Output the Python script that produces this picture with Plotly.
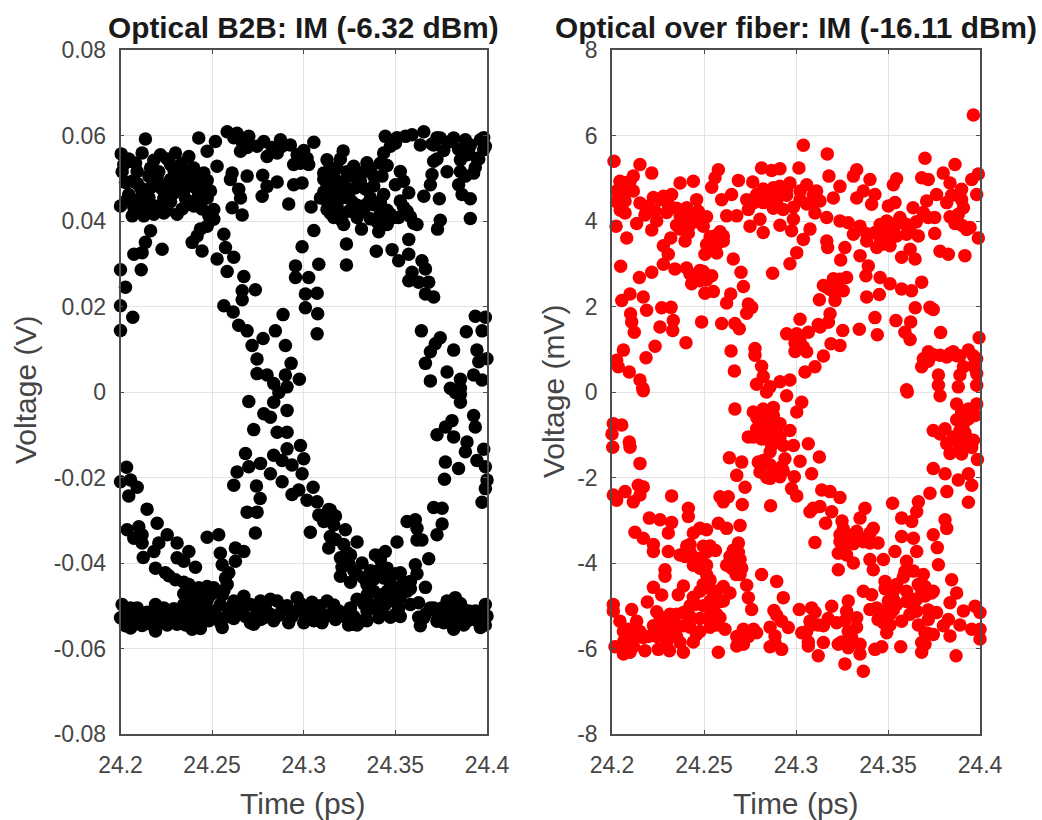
import plotly.graph_objects as go

x_ticks = [24.2, 24.25, 24.3, 24.35, 24.4]
x_labels = ["24.2", "24.25", "24.3", "24.35", "24.4"]
y1_ticks = [-0.08, -0.06, -0.04, -0.02, 0, 0.02, 0.04, 0.06, 0.08]
y1_labels = ["-0.08", "-0.06", "-0.04", "-0.02", "0", "0.02", "0.04", "0.06", "0.08"]
y2_ticks = [-8, -6, -4, -2, 0, 2, 4, 6, 8]
y2_labels = ["-8", "-6", "-4", "-2", "0", "2", "4", "6", "8"]

# Optical B2B (time ps, voltage V), upper rail
b2b_upper = [(24.2136,.0592),(24.2004,.0557),(24.2118,.0559),(24.2018,.0532),(24.2055,.054),(24.2009,.0515),(24.2091,.0516),(24.2064,.0493),(24.2109,.0478),(24.2,.0435),(24.2036,.045),(24.2064,.0412),(24.2127,.0412),(24.2164,.0524),(24.2218,.0555),(24.23,.0559),(24.2373,.0551),(24.2427,.0594),(24.22,.0501),(24.2273,.0532),(24.2327,.0509),(24.24,.0524),(24.2455,.0512),(24.2164,.0478),(24.2255,.0485),(24.2345,.047),(24.2436,.0493),(24.2491,.047),(24.2145,.0439),(24.2236,.0454),(24.2309,.0416),(24.24,.0435),(24.2473,.0454),(24.2509,.0427),(24.2509,.0404),(24.2236,.0419),(24.2182,.0416),(24.2373,.0439),
(24.2473,.0563),(24.2518,.0586),(24.2582,.0609),(24.2636,.0605),(24.27,.0598),(24.2655,.0563),(24.2782,.0586),(24.2873,.059),(24.2927,.0578),(24.3055,.0584),(24.28,.0551),(24.2855,.0559),(24.3018,.0547),(24.2945,.0532),(24.3027,.0532),(24.2527,.0528),(24.2609,.0512),(24.26,.0497),(24.2691,.0505),(24.2776,.0507),(24.28,.0481),(24.2855,.0491),(24.2945,.0485),(24.2991,.0489),(24.2773,.0458),(24.2645,.0474),(24.2655,.0454),(24.2609,.0431),(24.2664,.0414),(24.2918,.044),(24.304,.0433),
(24.3127,.0543),(24.3215,.0564),(24.3109,.0512),(24.3182,.0524),(24.3273,.0528),(24.3345,.0536),(24.3127,.0485),(24.3218,.0493),(24.3309,.0493),(24.3382,.0505),(24.3091,.0454),(24.3164,.0454),(24.3245,.0462),(24.3364,.0454),(24.3127,.0427),(24.3164,.0408),(24.3218,.0392),(24.3245,.0423),(24.3327,.0423),(24.3418,.0416),(24.3315,.0381),(24.3409,.0375),(24.3427,.0505),(24.3436,.0462),(24.3473,.0416),
(24.3436,.0559),(24.3445,.0598),(24.35,.0582),(24.3555,.0598),(24.3591,.0602),(24.3655,.0609),(24.3636,.0578),(24.3709,.0578),(24.3745,.0594),(24.3818,.0594),(24.3882,.059),(24.3964,.059),(24.3982,.0567),(24.3891,.0555),(24.3855,.0543),(24.3782,.0515),(24.3709,.054),(24.37,.0509),(24.3691,.0485),(24.3655,.0458),(24.374,.0452),(24.3927,.0512),(24.3855,.0516),(24.3845,.0485),(24.3864,.0462),(24.3909,.0452),(24.3909,.0406),(24.3745,.0402),(24.373,.0381),(24.3945,.0547),(24.3909,.0578),
(24.3527,.0516),(24.3545,.0493),(24.3573,.0466),(24.35,.0485),(24.3527,.0447),(24.3564,.0423),(24.3618,.0392),(24.3455,.0392),(24.3518,.0408)]

b2b_upper_left_cluster = [(24.2045,.0545),(24.2082,.0535),(24.2027,.049),(24.2091,.0488),(24.2045,.0462),(24.2105,.0452),(24.2073,.0432),(24.2118,.0425),(24.2155,.0505),(24.2182,.0542),(24.2209,.0515),(24.2255,.0545),(24.2291,.052),(24.2336,.0535),(24.2355,.0515),(24.2155,.0455),(24.2182,.0492),(24.2227,.0475),(24.2273,.0497),(24.2291,.0465),(24.2318,.0487),(24.2373,.0498),(24.24,.048),(24.2427,.0465),(24.2455,.0478),(24.2145,.0423),(24.2209,.0435),(24.2255,.0425),(24.2273,.0445),(24.2336,.0428),(24.2355,.0452),(24.2418,.0452),(24.2445,.0428),(24.2482,.0412),(24.2418,.0505),(24.2473,.0495),(24.2164,.044),(24.2118,.047)]

b2b_upper_right_cluster = [(24.3145,.0525),(24.3164,.0505),(24.32,.0545),(24.3236,.0515),(24.3264,.0505),(24.3291,.0515),(24.3327,.0515),(24.3364,.0522),(24.3109,.0498),(24.3145,.0475),(24.3182,.0478),(24.3236,.0475),(24.3282,.0478),(24.3336,.0475),(24.3382,.0482),(24.3109,.0468),(24.3127,.0445),(24.3182,.0435),(24.3218,.0455),(24.3264,.0445),(24.3291,.0437),(24.3345,.044),(24.3382,.0438),(24.3145,.0418),(24.32,.0415),(24.3209,.04),(24.3291,.0408),(24.3364,.0405),(24.3418,.0445),(24.34,.0398),(24.3455,.0425),(24.3491,.0408),(24.3545,.0432),(24.3582,.041),(24.36,.0395),
(24.39,.0568),(24.3955,.0545),(24.3991,.0575),(24.3936,.0525),(24.3882,.0505),(24.3982,.0595),(24.3845,.0568),(24.3791,.0585),(24.3764,.0565),(24.3727,.0545),(24.3727,.0595),(24.37,.058),(24.3473,.0575),(24.3418,.0535),(24.3455,.053),(24.3509,.0595),(24.2691,.0572),(24.2664,.0585),(24.2618,.0595),(24.2745,.0575),(24.2827,.0572),(24.2882,.0575),(24.2964,.0555),(24.2982,.0535),(24.3,.0565)]

# Optical B2B, upper half of the eye crossings
b2b_mid_upper = [(24.2473,.0388),(24.2436,.0381),(24.2418,.0365),(24.2391,.035),(24.2445,.033),(24.2164,.0377),(24.2136,.035),(24.2118,.0326),(24.2073,.0322),(24.2227,.0334),(24.2113,.0286),(24.2,.0286),(24.2027,.0245),(24.2,.0202),(24.2067,.0175),(24.2,.0144),
(24.2564,.0369),(24.2573,.0338),(24.2527,.0311),(24.2618,.0315),(24.2582,.0282),(24.2673,.027),(24.2736,.0239),(24.2664,.0237),(24.2664,.0216),(24.2564,.0202),(24.2615,.0187),(24.2645,.0156),(24.2691,.0143),(24.2718,.0109),(24.2778,.0125),(24.2845,.0143),(24.2887,.0181),(24.29,.0109),(24.2745,.0077),(24.2931,.0067),(24.2745,.0043),(24.28,.004),(24.29,.004),(24.2976,.003),(24.2836,.002),(24.2909,.0012),
(24.3055,.0378),(24.2991,.034),(24.2955,.0295),(24.2955,.0268),(24.3027,.0268),(24.3082,.0299),(24.3009,.0229),(24.3073,.0231),(24.3009,.0197),(24.3076,.0183),(24.3073,.0136),(24.3233,.0346),(24.3233,.0297),
(24.3573,.0357),(24.3396,.0329),(24.3482,.0333),(24.3518,.0307),(24.3573,.0322),(24.3645,.0307),(24.3664,.0288),(24.3591,.028),(24.3573,.026),(24.3682,.0257),(24.3627,.0257),(24.3664,.0229),(24.3709,.0222),
(24.3936,.0177),(24.3991,.0175),(24.3642,.0143),(24.3973,.0143),(24.3887,.0141),(24.3745,.0127),(24.3718,.0113),(24.3691,.0094),(24.3664,.0067),(24.3818,.0098),(24.3945,.0098),(24.3955,.0071),(24.4,.0078),(24.3782,.0047),(24.3691,.0026),(24.3855,.003),(24.3927,.004),(24.3973,.0028),(24.38,.0009),(24.3855,.0009)]

# Optical B2B, lower half of the eye crossings
b2b_mid_lower = [(24.27,-.0022),(24.2864,-.0001),(24.2836,-.0024),(24.2782,-.0051),(24.2818,-.0059),(24.2909,-.0043),(24.2727,-.0088),(24.2855,-.0094),(24.2909,-.0094),(24.2682,-.0144),(24.2836,-.0148),(24.2909,-.0133),(24.2982,-.0125),(24.2882,-.016),(24.3,-.0156),(24.2936,-.0171),(24.2991,-.0191),(24.2764,-.0167),(24.27,-.0175),(24.2636,-.0187),(24.2618,-.0218),(24.2818,-.0191),(24.2882,-.021),(24.2742,-.022),(24.2762,-.0249),(24.2691,-.0281),(24.2745,-.0281),(24.2736,-.033),(24.2536,-.0334),(24.2473,-.034),
(24.2973,-.0229),(24.2936,-.024),(24.3051,-.0223),(24.3018,-.0253),(24.3073,-.0257),(24.3082,-.0288),(24.3145,-.0276),(24.3127,-.0299),(24.3036,-.0328),(24.3164,-.0311),(24.3227,-.0322),(24.3145,-.0338),(24.3291,-.0351),(24.3136,-.0365),(24.3218,-.0357),(24.32,-.0388),(24.3255,-.0381),(24.32,-.0431),(24.3245,-.04),(24.3318,-.04),(24.3291,-.0427),(24.3345,-.045),(24.3391,-.0381),(24.3445,-.0373),(24.3509,-.0351),(24.34,-.0419),(24.3455,-.0412),(24.3382,-.0466),(24.3455,-.0466),(24.3527,-.0423),(24.3609,-.0404),(24.3682,-.039),(24.3582,-.0443),(24.3664,-.0457),(24.3527,-.0458),(24.3564,-.0466),(24.3327,-.0435),
(24.3855,-.0005),(24.3827,-.0001),(24.3855,-.0024),(24.3927,-.0055),(24.3936,-.0082),(24.3809,-.0067),(24.3773,-.0082),(24.3727,-.01),(24.3818,-.0105),(24.3891,-.0117),(24.3882,-.014),(24.3982,-.0134),(24.3945,-.016),(24.3991,-.0175),(24.3773,-.0164),(24.3845,-.0179),(24.3768,-.0204),(24.4,-.0206),(24.3991,-.0226),(24.3973,-.0258),(24.3709,-.027),(24.3755,-.0272),(24.3755,-.0309),(24.3727,-.0334),(24.3564,-.0303),(24.3609,-.0299),(24.3618,-.0319),(24.3618,-.0346),(24.3645,-.0346),
(24.2033,-.0176),(24.2,-.021),(24.2055,-.0206),(24.2091,-.0223),(24.2045,-.0243),(24.2145,-.0274),(24.2036,-.0322),(24.21,-.0315),(24.2118,-.0334),(24.2073,-.0342),(24.2118,-.0353),(24.22,-.0307),(24.2255,-.0334),(24.2209,-.0353),(24.2182,-.0373),(24.2309,-.0353),(24.2124,-.0387),(24.2373,-.0373),(24.2309,-.0388),(24.2345,-.0396),(24.2409,-.041),(24.2191,-.0412),(24.2245,-.0423),(24.23,-.0439),(24.2373,-.045),(24.2427,-.0458),(24.2509,-.0458),(24.2582,-.045),(24.2591,-.0423),(24.2555,-.0404),(24.2545,-.0377),(24.2627,-.0365),(24.2673,-.0373),(24.2627,-.0396),(24.2364,-.0481),(24.2436,-.0481)]

b2b_mid_lower_cluster = [(24.2418,-.0465),(24.2455,-.0475),(24.2473,-.0455),(24.2491,-.0475),(24.2527,-.0468),(24.2555,-.0475),(24.2573,-.0435),(24.2564,-.0465),(24.2391,-.047),(24.2345,-.0445),(24.2264,-.043),(24.2345,-.0472),(24.3364,-.0418),(24.3382,-.0438),(24.3345,-.0475),(24.3418,-.0392),(24.3436,-.0435),(24.3473,-.0448),(24.3491,-.0475),(24.35,-.0425),(24.3545,-.0445),(24.3527,-.048),(24.3418,-.0475),(24.3582,-.046),(24.3618,-.0425),(24.3273,-.0418),(24.3255,-.0445),(24.3209,-.041),(24.3173,-.0345),(24.3236,-.0375),(24.3109,-.0303),(24.3136,-.0275),(24.3173,-.029)]

# Optical B2B, lower rail
b2b_lower = [(24.2009,-.0497),(24.2,-.0528),(24.2027,-.0547),(24.2073,-.0516),(24.2091,-.0536),(24.2055,-.0505),(24.2136,-.0528),(24.2191,-.0497),(24.2191,-.0559),(24.2218,-.0509),(24.2164,-.0536),(24.2245,-.0528),(24.2309,-.0543),(24.2282,-.0512),(24.2345,-.052),(24.2391,-.0555),(24.2373,-.0489),(24.2436,-.0497),(24.2418,-.0536),(24.2473,-.0509),(24.2345,-.0497),(24.2464,-.0528),(24.2509,-.0512),(24.2555,-.0551),(24.2545,-.0497),(24.2591,-.0512),(24.2618,-.0489),(24.2673,-.0478),(24.2655,-.0512),(24.2709,-.0497),(24.2727,-.0543),(24.2782,-.0528),(24.2764,-.0489),(24.2818,-.0485),(24.2855,-.0489),(24.2818,-.052),(24.2882,-.0509),(24.2918,-.054),(24.2964,-.0481),(24.2964,-.0512),(24.3,-.054),(24.3027,-.0505),(24.3073,-.052),(24.31,-.054),(24.3127,-.0489),(24.3145,-.052),(24.3191,-.0512),(24.3264,-.0543),(24.3255,-.0505),(24.3291,-.0485),(24.3309,-.0536),(24.3345,-.0512),(24.3364,-.0497),(24.3409,-.0528),(24.3445,-.0497),(24.35,-.052),(24.3491,-.0489),(24.3582,-.0497),(24.3627,-.0493),(24.3636,-.0547),(24.3664,-.052),(24.3709,-.0505),(24.3727,-.0536),(24.3782,-.0489),(24.3827,-.0481),(24.3809,-.054),(24.3864,-.0505),(24.3891,-.0536),(24.39,-.0512),(24.3964,-.0551),(24.3936,-.0512),(24.3991,-.0497),(24.4,-.0524),(24.3782,-.052)]

b2b_lower_dense = [(24.2027,-.0515),(24.2045,-.0535),(24.2055,-.0552),(24.2091,-.0505),(24.21,-.0528),(24.2118,-.0546),(24.2145,-.0515),(24.2173,-.0528),(24.2173,-.0545),(24.22,-.0518),(24.2209,-.054),(24.2236,-.0505),(24.2255,-.0545),(24.2273,-.0522),(24.2291,-.0507),(24.2327,-.0528),(24.2355,-.0545),(24.2364,-.0508),(24.2391,-.0525),(24.24,-.0495),(24.2418,-.0512),(24.2436,-.0553),(24.2445,-.0525),(24.2473,-.0487),(24.2482,-.0535),(24.2527,-.0525),(24.2545,-.054),(24.2573,-.0527),(24.26,-.0505),(24.2618,-.053),(24.2645,-.0495),(24.2682,-.0525),(24.2709,-.054),(24.2745,-.0515),(24.2764,-.0532),(24.2791,-.0505),(24.2836,-.0535),(24.2864,-.0522),(24.2909,-.05),(24.2936,-.0525),(24.2982,-.0495),(24.3009,-.0522),(24.3045,-.0492),(24.3055,-.0535),(24.3091,-.05),(24.3118,-.0525),(24.3164,-.0498),(24.3173,-.0532),(24.3227,-.0527),(24.3245,-.0545),(24.3273,-.0525),(24.3291,-.0545),(24.3327,-.0495),(24.3345,-.0535),(24.3382,-.0505),(24.3418,-.0485),(24.3427,-.0515),(24.3473,-.0527),(24.3482,-.0478),(24.3518,-.0505),(24.3527,-.0525),(24.3655,-.0528),(24.3627,-.0527),(24.3691,-.0505),(24.3736,-.0522),(24.3764,-.054),(24.3755,-.0505),(24.3809,-.0505),(24.3845,-.0525),(24.3855,-.0495),(24.3873,-.0545),(24.3918,-.0528),(24.3945,-.0535),(24.3991,-.0545),(24.3973,-.0525),(24.3818,-.0555)]

# Optical over fiber (time ps, voltage mV), upper half
fiber_upper = [(24.3964,6.48),(24.304,5.77),(24.317,5.57),(24.2011,5.4),(24.3701,5.47),(24.3864,5.32),(24.2152,5.32),(24.2216,5.12),(24.2116,5.05),(24.2043,4.93),(24.2578,5.2),(24.256,5.01),(24.2542,4.79),(24.2813,5.24),(24.2868,5.18),(24.2913,5.22),(24.3016,5.24),(24.3179,5.05),(24.333,5.2),(24.3312,5.05),(24.3402,4.97),(24.3529,4.85),(24.3547,4.99),(24.3683,5.01),(24.3719,4.97),(24.38,5.12),(24.3991,5.1),(24.3955,4.97),(24.3837,4.89),(24.39,4.74),(24.3982,4.62),(24.3764,4.62),(24.3819,4.43),(24.391,4.31),(24.371,4.47),(24.3538,4.43),(24.3502,4.35),(24.2687,4.95),(24.2765,4.91),(24.2442,4.93),(24.237,4.89),(24.208,4.7),(24.2025,4.7),(24.2116,4.7),(24.2071,4.47),(24.2071,4.19),
(24.2877,4.78),(24.2967,4.89),(24.3058,4.85),(24.2913,4.81),(24.284,4.7),(24.3112,4.7),(24.3239,4.81),(24.3203,4.54),(24.313,4.47),(24.3103,4.19),(24.265,4.62),(24.2596,4.5),(24.246,4.5),(24.2324,4.62),(24.228,4.58),(24.2197,4.35),(24.2234,4.23),(24.2306,4.39),(24.2406,4.31),(24.2469,4.23),(24.237,4.12),(24.2732,4.5),(24.2822,4.43),(24.2895,4.47),(24.3022,4.5),(24.293,4.27),(24.2741,4.27),(24.2623,4.12),(24.2678,4.12),(24.2804,4.04),(24.275,3.88),(24.2822,3.73),(24.2986,4.04),(24.2913,3.9),(24.2976,3.77),(24.3076,3.81),(24.304,3.57),(24.3004,3.26),(24.2967,3.0),(24.2873,2.78),
(24.3167,4.08),(24.3239,4.0),(24.3284,3.96),(24.3348,3.88),(24.3312,3.69),(24.3167,3.53),(24.3172,3.38),(24.3266,3.38),(24.3243,3.09),(24.3366,4.7),(24.3429,4.62),(24.3411,4.39),(24.333,4.54),(24.3457,3.92),(24.3493,4.0),(24.3565,4.08),(24.3636,4.31),(24.3429,3.73),(24.3384,3.53),(24.3475,3.46),(24.3529,3.81),(24.3601,3.69),(24.3665,3.65),(24.3601,3.92),(24.3719,4.08),(24.3754,4.08),(24.3754,3.71),(24.3882,4.16),(24.3864,3.94),(24.3946,3.85),(24.3991,3.6),(24.3783,3.29),(24.3828,3.22),(24.3918,3.19),(24.362,3.34),(24.3574,3.15),(24.3647,3.11),
(24.3348,3.19),(24.3393,2.95),(24.338,2.72),(24.3457,2.68),(24.3511,2.53),(24.3574,2.41),(24.3628,2.37),(24.3683,2.57),(24.3384,2.22),(24.3453,2.28),(24.3648,1.97),(24.3728,1.98),(24.3746,1.93),(24.3543,1.67),(24.3623,1.64),(24.3592,1.4),(24.362,1.23),(24.3786,1.39),(24.3429,1.74),(24.3344,1.47),(24.3442,1.34),(24.3254,1.44),(24.3022,1.7),(24.3127,2.16),(24.3239,2.64),(24.3275,2.68),(24.3149,2.49),(24.3203,2.45),(24.3257,2.37),(24.3212,2.14),(24.3185,1.83),(24.3121,1.58),(24.3067,1.4),(24.2949,1.36),(24.3004,1.36),(24.304,1.05),(24.3058,.94),(24.319,1.13),(24.3239,1.09),(24.3149,.84),(24.3103,.59),(24.3049,.47),(24.2777,1.02),(24.2777,.86),(24.2647,.96),(24.2813,.6),(24.2665,.49),(24.2822,.36),(24.2786,.18),(24.2913,.24),(24.2967,.28),(24.2859,.12),
(24.2022,3.88),(24.208,3.6),(24.2134,3.94),(24.2216,3.79),(24.2047,2.94),(24.2149,2.68),(24.2216,2.8),(24.2342,2.88),(24.2279,3.42),(24.2319,3.6),(24.2306,3.22),(24.2279,2.99),(24.2397,3.53),(24.237,3.81),(24.2424,3.92),(24.2496,3.88),(24.256,3.65),(24.2533,3.46),(24.2605,3.53),(24.2505,3.22),(24.2659,3.11),(24.2701,2.8),(24.2714,2.47),(24.2424,2.76),(24.2478,2.84),(24.2542,2.72),(24.2433,2.53),(24.2505,2.31),(24.2551,2.35),(24.2645,2.29),(24.2623,2.08),(24.2741,2.06),(24.2759,1.98),(24.2732,1.84),(24.2053,2.14),(24.2098,2.29),(24.217,2.22),(24.2188,1.91),(24.2101,1.83),(24.2107,1.64),(24.2121,1.4),(24.227,1.97),(24.2321,1.98),(24.2333,1.67),(24.2261,1.52),(24.233,1.44),(24.2487,1.64),(24.2596,1.6),(24.2668,1.6),(24.2692,1.48),(24.2234,1.07),(24.2402,1.15),(24.2062,.98),(24.2185,.8),(24.2025,.74),(24.2034,.59),(24.2094,.47),(24.2152,.28),(24.2167,.09),
(24.3719,.94),(24.3692,.78),(24.3683,.59),(24.3783,.86),(24.3855,.94),(24.3819,.82),(24.3937,.98),(24.3982,.78),(24.3995,1.27),(24.391,.59),(24.3891,.4),(24.3982,.43),(24.3774,.4),(24.3774,.16),(24.3882,.12),(24.3982,.16),(24.3601,.05)]

fiber_upper_dense = [(24.2225,4.55),(24.2261,4.5),(24.2297,4.2),(24.2152,4.42),(24.2179,4.14),(24.2243,4.0),(24.2188,4.25),(24.2351,4.3),(24.2442,4.1),(24.2397,4.08),(24.2351,3.9),(24.2415,3.72),(24.2469,3.98),(24.2514,4.1),
(24.2768,4.42),(24.2786,4.62),(24.2859,4.52),(24.2877,4.3),(24.2949,4.6),(24.2986,4.32),(24.3058,4.4),(24.3085,4.42),(24.2913,4.62),(24.2949,4.75),(24.2822,4.75),(24.3022,4.7),(24.3094,4.6),
(24.3475,3.65),(24.3511,3.7),(24.3493,3.84),(24.3547,3.96),(24.3583,3.95),(24.3547,3.65),(24.3511,3.42),(24.3457,3.6),(24.3384,3.7),(24.3439,3.38),(24.362,3.78),(24.3654,3.98),(24.3692,4.2),
(24.2533,3.63),(24.2514,3.45),(24.2569,3.45),(24.2587,3.75),(24.2605,3.65),(24.2569,3.25),(24.2442,2.62),(24.2478,2.6),(24.2496,2.82),(24.2405,2.9),(24.2514,2.62),
(24.3203,2.65),(24.3185,2.4),(24.3212,2.3),(24.3167,2.45),(24.2995,1.14),(24.2995,.95),(24.3022,1.18),(24.3131,1.52),(24.3176,1.63),
(24.3719,.72),(24.3746,.87),(24.3837,.9),(24.3873,.85),(24.3964,.85),(24.3964,.6),(24.3891,.85),(24.2025,4.45),(24.2053,4.85),(24.208,4.9),(24.2045,4.25),(24.2098,4.93),(24.39,4.5),(24.3846,4.6),(24.3837,4.1),(24.3927,3.8),(24.3901,3.9)]

# Optical over fiber, lower half
fiber_lower = [(24.2668,-.4),(24.217,.03),(24.284,0),(24.2949,-.09),(24.3031,-.24),(24.3004,-.47),(24.2768,-.47),(24.2822,-.4),(24.2877,-.36),(24.284,-.71),(24.2913,-.74),(24.2786,-.86),(24.2741,-1.05),(24.2877,-.94),(24.2967,-.9),(24.2868,-1.25),(24.2931,-1.25),(24.2986,-1.25),(24.3067,-1.21),(24.2859,-1.4),(24.3127,-1.52),(24.294,-1.56),(24.3022,-1.62),(24.2638,-1.54),(24.2705,-1.64),(24.2795,-1.64),(24.2804,-1.87),(24.2859,-2.02),(24.2913,-1.98),(24.2922,-1.75),(24.2678,-1.95),(24.3085,-1.91),(24.2991,-1.98),(24.2723,-2.23),(24.2976,-2.26),(24.3004,-2.43),(24.2862,-2.66),(24.2708,-2.63),(24.2605,-2.57),(24.2587,-2.45),(24.2632,-2.45),
(24.314,-2.29),(24.3185,-2.33),(24.3239,-2.47),(24.3094,-2.72),(24.3076,-2.8),(24.313,-2.68),(24.3194,-2.8),(24.3161,-3.07),(24.325,-3.02),(24.3103,-3.52),(24.3375,-2.72),(24.3348,-2.95),(24.342,-3.19),(24.333,-3.26),(24.3239,-3.34),(24.3275,-3.53),(24.3366,-3.5),(24.3446,-3.53),(24.323,-3.77),(24.3275,-3.81),(24.3312,-4.0),(24.323,-4.16),(24.3402,-3.92),(24.342,-4.16),(24.3475,-3.92),(24.3538,-3.73),(24.3601,-3.96),(24.3656,-3.73),(24.3574,-3.38),(24.3638,-3.42),(24.3629,-3.03),(24.3574,-2.95),(24.3656,-2.8),(24.3665,-2.57),(24.3728,-2.37),(24.3525,-2.6),(24.382,-2.33),(24.3937,-2.58),(24.381,-2.99),(24.3819,-3.19),(24.3746,-3.34),(24.3768,-3.64),(24.3774,-4.04),
(24.3746,-1.79),(24.381,-1.91),(24.3882,-2.06),(24.3937,-1.91),(24.3955,-2.18),(24.3986,-1.58),(24.3837,-1.44),(24.3819,-1.21),(24.3746,-.9),(24.381,-.86),(24.3783,-.98),(24.3891,-.9),(24.3918,-1.25),(24.3964,-1.13),(24.3873,-1.17),(24.3937,-.63),(24.3982,-.28),(24.3973,-.55),(24.3873,-.28),(24.39,-.47),(24.3783,-.09),(24.3605,0),
(24.2007,-.74),(24.2053,-.77),(24.2,-.98),(24.2004,-1.29),(24.2094,-1.17),(24.2098,-1.29),(24.2152,-1.67),(24.2007,-2.41),(24.2071,-2.33),(24.2025,-2.53),(24.2116,-2.57),(24.2143,-2.18),(24.217,-2.22),(24.2152,-2.41),(24.2324,-2.43),(24.2415,-2.72),(24.2415,-2.91),(24.2203,-2.95),(24.2261,-2.99),(24.2324,-3.05),(24.2306,-3.3),(24.2125,-3.28),(24.217,-3.42),(24.2225,-3.57),(24.2225,-3.73),(24.2578,-3.07),(24.2623,-3.19),(24.2696,-3.12),(24.2478,-3.19),(24.2514,-3.22),(24.2442,-3.3),(24.2687,-3.53),(24.2562,-3.71),(24.2496,-3.61),(24.2424,-3.57),(24.2306,-3.73),(24.237,-3.81),(24.2451,-3.88),(24.2641,-3.85),(24.2696,-3.92),(24.265,-4.12),(24.2705,-4.12),(24.2674,-4.27),(24.2288,-4.16),(24.2288,-4.31),(24.2478,-4.12),(24.2514,-4.27),(24.2813,-4.27),(24.2895,-4.43),(24.2732,-4.52),(24.2388,-4.54),(24.236,-4.74),(24.2225,-4.57),(24.227,-4.75),(24.2192,-4.91),(24.2007,-4.97),(24.2007,-5.12),(24.2107,-5.09),
(24.2478,-4.66),(24.2569,-4.66),(24.2641,-4.7),(24.2605,-4.89),(24.2533,-4.89),(24.2451,-4.97),(24.2741,-4.81),(24.2759,-5.09),(24.2931,-4.81),(24.288,-5.11),(24.2243,-5.14),(24.2315,-5.2),(24.2388,-5.16),(24.2043,-5.36),(24.2134,-5.36),(24.2089,-5.55),(24.2225,-5.47),(24.2297,-5.43),(24.2388,-5.47),(24.246,-5.67),(24.2524,-5.28),(24.2569,-5.2),(24.2614,-5.55),(24.217,-5.74),(24.2016,-5.96),(24.2062,-6.13),(24.2098,-6.09),(24.2179,-6.05),(24.2252,-6.02),(24.2312,-6.05),(24.2388,-6.09),(24.237,-5.86),(24.2578,-6.09),(24.2678,-5.94),(24.2696,-5.71),(24.2714,-5.55),(24.2786,-5.63),(24.2859,-5.96),(24.2922,-6.02),(24.2886,-5.71),(24.2922,-5.36),(24.2958,-5.51),(24.3018,-5.09),(24.3085,-5.05),(24.3194,-5.01),(24.3031,-5.63),(24.3067,-5.94),(24.3121,-6.17),(24.3076,-5.36),(24.3149,-5.47),(24.3221,-5.4),(24.3149,-5.86),(24.323,-5.9),(24.3302,-5.74),(24.3284,-5.98),(24.3348,-6.13),(24.3266,-6.36),(24.3366,-6.53),(24.3429,-6.02),(24.3466,-5.96),(24.3569,-5.96),(24.3683,-6.09),(24.3683,-5.86),(24.3701,-5.63),(24.387,-6.17),
(24.3284,-4.89),(24.3366,-4.66),(24.3411,-4.74),(24.3402,-5.09),(24.333,-5.28),(24.3275,-5.13),(24.3446,-5.32),(24.3493,-5.63),(24.3502,-4.89),(24.3547,-4.97),(24.3511,-5.2),(24.3574,-5.36),(24.3484,-4.43),(24.3529,-4.66),(24.3601,-4.66),(24.3583,-4.33),(24.3638,-4.19),(24.3692,-4.27),(24.3683,-4.62),(24.3746,-4.66),(24.3638,-4.97),(24.3701,-4.77),(24.3764,-5.16),(24.3719,-5.32),(24.3656,-5.13),(24.3846,-4.39),(24.3873,-4.7),(24.3837,-4.93),(24.3973,-5.01),(24.391,-5.12),(24.4,-5.16),(24.3828,-5.32),(24.3801,-5.47),(24.3837,-5.71),(24.3891,-5.45),(24.3955,-5.55),(24.4,-5.55),(24.4,-5.78),(24.3746,-5.67)]

fiber_lower_dense = [(24.2787,-.6),(24.2804,-.55),(24.2859,-.62),(24.2804,-1.0),(24.2822,-.85),(24.2877,-.55),(24.2841,-1.1),(24.2768,-1.05),(24.2886,-1.15),(24.2813,-1.1),(24.2895,-.85),(24.2913,-1.05),(24.2859,-1.7),(24.2822,-1.6),(24.2877,-1.85),(24.2931,-1.85),(24.2841,-2.0),
(24.3239,-3.5),(24.3257,-3.2),(24.3302,-3.35),(24.3312,-3.55),(24.3348,-3.42),(24.3402,-3.53),(24.3402,-3.3),
(24.3873,-.65),(24.3855,-1.05),(24.3891,-1.3),(24.3918,-.95),(24.3937,-1.1),(24.3955,-1.3),(24.3909,-.75),(24.3937,-.4),(24.39,-1.45),
(24.2351,-5.2),(24.2261,-5.25),(24.2279,-5.5),(24.2333,-5.3),(24.2424,-5.25),(24.2424,-5.5),(24.2279,-5.68),(24.2333,-5.55),(24.2152,-5.6),(24.2197,-5.72),(24.2243,-5.72),(24.2297,-5.85),(24.2351,-5.72),(24.2442,-5.85),(24.2116,-5.75),(24.2062,-5.6),(24.2116,-5.95),(24.2062,-5.85),(24.2424,-5.0),(24.2497,-5.0),(24.2478,-5.3),(24.2478,-5.6),(24.2533,-5.5),(24.2551,-5.05),(24.2587,-4.9),(24.2605,-4.55),(24.2533,-4.6),(24.2442,-4.8),(24.2533,-5.25),(24.2569,-5.45),(24.2587,-5.28),
(24.2424,-3.75),(24.2397,-3.85),(24.2442,-4.05),(24.2478,-3.9),(24.2406,-3.6),(24.2514,-3.75),(24.2533,-3.6),(24.2514,-4.05),(24.2533,-4.4),(24.2496,-4.5),(24.2659,-3.7),(24.2668,-3.95),(24.2678,-4.1),(24.2687,-3.75),(24.2623,-4.05),(24.2696,-4.27),
(24.3493,-5.1),(24.3529,-5.1),(24.3529,-4.85),(24.3511,-5.45),(24.3475,-5.4),(24.3438,-5.05),(24.3457,-5.25),(24.3601,-4.9),(24.3656,-4.85),(24.3665,-4.5),(24.3647,-4.85),(24.3619,-5.2),(24.3737,-4.7),(24.3701,-4.55),(24.3665,-5.45),(24.3719,-5.1),(24.3719,-5.65),(24.3701,-5.9),(24.3592,-4.2),(24.3547,-4.5),(24.3484,-4.6),
(24.3329,-5.5),(24.3266,-5.35),(24.3284,-5.6),(24.3248,-5.85),(24.3348,-5.9),(24.3175,-5.3),(24.3121,-5.45),(24.3103,-5.15),(24.3085,-5.45),(24.3058,-5.6),(24.3067,-5.85),
(24.2742,-5.72),(24.2769,-5.55),(24.2678,-5.72),(24.2714,-5.9),(24.2859,-5.5),(24.2886,-5.88),(24.2895,-5.22)]

b2b_points = (b2b_upper + b2b_upper_left_cluster + b2b_upper_right_cluster + b2b_mid_upper
              + b2b_mid_lower + b2b_mid_lower_cluster + b2b_lower + b2b_lower_dense)
fiber_points = fiber_upper + fiber_upper_dense + fiber_lower + fiber_lower_dense

W, H = 1042, 820
AX_TOP, AX_BOTTOM = 50, 734
L1, R1, L2, R2 = 120.5, 487, 612, 980
FONT = "Liberation Sans"
TXT = "#454545"

fig = go.Figure()
fig.add_trace(go.Scatter(x=[p[0] for p in b2b_points], y=[p[1] for p in b2b_points], mode="markers",
                         marker=dict(size=13.5, color="#000000"), cliponaxis=False, xaxis="x", yaxis="y"))
fig.add_trace(go.Scatter(x=[p[0] for p in fiber_points], y=[p[1] for p in fiber_points], mode="markers",
                         marker=dict(size=13.5, color="#ff0000"), cliponaxis=False, xaxis="x2", yaxis="y2"))

axis_common = dict(showline=True, mirror="allticks", linecolor="#4d4d4d", linewidth=1.5,
                   ticks="inside", ticklen=4, tickcolor="#4d4d4d", tickwidth=1,
                   showgrid=True, gridcolor="#e3e3e3", gridwidth=1, zeroline=False, automargin=False,
                   tickfont=dict(family=FONT, size=23, color=TXT))
dom_y = [(H - AX_BOTTOM) / H, (H - AX_TOP) / H]


def note(text, px, py, size, color=TXT, angle=0):
    return dict(text=text, xref="paper", yref="paper", x=px / W, y=(H - py) / H, xanchor="center",
                yanchor="middle", showarrow=False, textangle=angle,
                font=dict(family=FONT, size=size, color=color))


fig.update_layout(
    width=W, height=H, paper_bgcolor="white", plot_bgcolor="white", showlegend=False,
    margin=dict(l=0, r=0, t=0, b=0),
    xaxis=dict(domain=[L1 / W, R1 / W], range=[24.2, 24.4], tickvals=x_ticks, ticktext=x_labels,
               anchor="y", ticklabelstandoff=10, **axis_common),
    yaxis=dict(domain=dom_y, range=[-0.08, 0.08], tickvals=y1_ticks, ticktext=y1_labels,
               anchor="x", ticklabelstandoff=8, **axis_common),
    xaxis2=dict(domain=[L2 / W, R2 / W], range=[24.2, 24.4], tickvals=x_ticks, ticktext=x_labels,
                anchor="y2", ticklabelstandoff=10, **axis_common),
    yaxis2=dict(domain=dom_y, range=[-8, 8], tickvals=y2_ticks, ticktext=y2_labels,
                anchor="x2", ticklabelstandoff=8, **axis_common),
    annotations=[
        note("<b>Optical B2B: IM (-6.32 dBm)</b>", 303, 27, 29.8, "#1a1a1a"),
        note("<b>Optical over fiber: IM (-16.11 dBm)</b>", 796, 27, 29.8, "#1a1a1a"),
        note("Time (ps)", 303, 803, 30),
        note("Time (ps)", 796, 803, 30),
        note("Voltage (V)", 25, 390, 30, angle=-90),
        note("Voltage (mV)", 553, 392, 30, angle=-90),
    ],
)
fig.write_html("out.html", config=dict(displayModeBar=False),
               post_script="document.body.style.margin='0';")
